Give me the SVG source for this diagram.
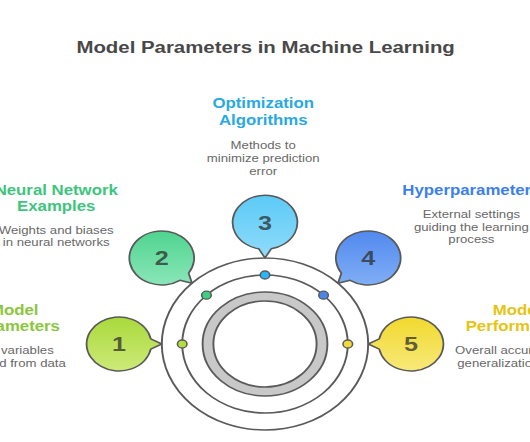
<svg xmlns="http://www.w3.org/2000/svg" width="530" height="442" viewBox="0 0 530 442">
<style>
text{font-family:"Liberation Sans",Arial,sans-serif;text-anchor:middle}
.ttl{font-size:17px;font-weight:bold;fill:#484848}
.hd{font-size:14px;font-weight:bold}
.ds{font-size:11px;fill:#686868}
.num{font-size:21px;font-weight:bold;fill:#2a2a2a;fill-opacity:0.72}
.bub{stroke:#595959;stroke-width:1.5;stroke-linejoin:round}
.dot{stroke:#595959;stroke-width:1.3}
.orb{fill:none;stroke:#5a5a5a;stroke-width:1.6}
</style>
<defs>
<linearGradient id="g1" x1="0" y1="0" x2="0" y2="1"><stop offset="0" stop-color="#a9d93c"/><stop offset="1" stop-color="#cdea78"/></linearGradient>
<linearGradient id="g2" x1="0" y1="0" x2="0" y2="1"><stop offset="0" stop-color="#4fd48f"/><stop offset="1" stop-color="#8ae6b8"/></linearGradient>
<linearGradient id="g3" x1="0" y1="0" x2="0" y2="1"><stop offset="0" stop-color="#5ccaf6"/><stop offset="1" stop-color="#8fdcfb"/></linearGradient>
<linearGradient id="g4" x1="0" y1="0" x2="0" y2="1"><stop offset="0" stop-color="#5189ee"/><stop offset="1" stop-color="#80aef6"/></linearGradient>
<linearGradient id="g5" x1="0" y1="0" x2="0" y2="1"><stop offset="0" stop-color="#f1d92e"/><stop offset="1" stop-color="#f8e97a"/></linearGradient>
</defs>
<rect width="530" height="442" fill="#ffffff"/>
<g transform="translate(265,0) scale(1.2,1)">
<text id="title" class="ttl" x="0.5" y="53.3">Model Parameters in Machine Learning</text>

<g id="connectors">
<circle class="orb" cx="0" cy="344" r="86"/>
<circle class="orb" cx="0" cy="344" r="69"/>
<circle cx="0" cy="344" r="47.5" fill="none" stroke="#c8c8c8" stroke-width="9"/>
<circle class="orb" cx="0" cy="344" r="52"/>
<circle class="orb" cx="0" cy="344" r="43"/>
</g>

<g id="node1">
<path class="bub" fill="url(#g1)" d="M -95.2 349.15 A 27 27 0 1 1 -95.2 338.85 L -86 344 Z"/>
<text class="num" x="-121.7" y="351.5">1</text>
<circle class="dot" cx="-69" cy="344" r="4" fill="#b4dc3c"/>
<text class="hd" fill="#8cc63e" x="-209" y="315">Model</text>
<text class="hd" fill="#8cc63e" x="-209" y="331">Parameters</text>
<text class="ds" x="-209" y="354">The variables</text>
<text class="ds" x="-209" y="366.5">learned from data</text>
</g>

<g id="node2">
<path class="bub" fill="url(#g2)" d="M -70.95 280.33 A 27 27 0 1 1 -63.67 273.05 L -60.81 283.19 Z"/>
<text class="num" x="-86.05" y="265.5">2</text>
<circle class="dot" cx="-48.8" cy="295.2" r="4" fill="#3ecf83"/>
<text class="hd" fill="#3ec57d" x="-174" y="194.7">Neural Network</text>
<text class="hd" fill="#3ec57d" x="-174" y="210.9">Examples</text>
<text class="ds" x="-174" y="234">Weights and biases</text>
<text class="ds" x="-174" y="246.5">in neural networks</text>
</g>

<g id="node3">
<path class="bub" fill="url(#g3)" d="M -5.15 248.8 A 27 27 0 1 1 5.15 248.8 L 0 258 Z"/>
<text class="num" x="0" y="229.8">3</text>
<circle class="dot" cx="0" cy="275" r="4" fill="#29b6f6"/>
<text class="hd" fill="#29a9e1" x="-1.5" y="108">Optimization</text>
<text class="hd" fill="#29a9e1" x="-1.5" y="125">Algorithms</text>
<text class="ds" x="-1.5" y="149.3">Methods to</text>
<text class="ds" x="-1.5" y="162.2">minimize prediction</text>
<text class="ds" x="-1.5" y="175">error</text>
</g>

<g id="node4">
<path class="bub" fill="url(#g4)" d="M 63.67 273.05 A 27 27 0 1 1 70.95 280.33 L 60.81 283.19 Z"/>
<text class="num" x="86.05" y="265.5">4</text>
<circle class="dot" cx="48.8" cy="295.2" r="4" fill="#4a86e8"/>
<text class="hd" fill="#3c7fec" x="172" y="194.7">Hyperparameters</text>
<text class="ds" x="172" y="218">External settings</text>
<text class="ds" x="172" y="230.7">guiding the learning</text>
<text class="ds" x="172" y="243.3">process</text>
</g>

<g id="node5">
<path class="bub" fill="url(#g5)" d="M 95.2 338.85 A 27 27 0 1 1 95.2 349.15 L 86 344 Z"/>
<text class="num" x="121.7" y="351.5">5</text>
<circle class="dot" cx="69" cy="344" r="4" fill="#f5d93a"/>
<text class="hd" fill="#e5c412" x="210" y="315">Model</text>
<text class="hd" fill="#e5c412" x="210" y="331">Performance</text>
<text class="ds" x="210" y="354">Overall accuracy and</text>
<text class="ds" x="210" y="366.5">generalization ability</text>
</g>
</g>
</svg>
